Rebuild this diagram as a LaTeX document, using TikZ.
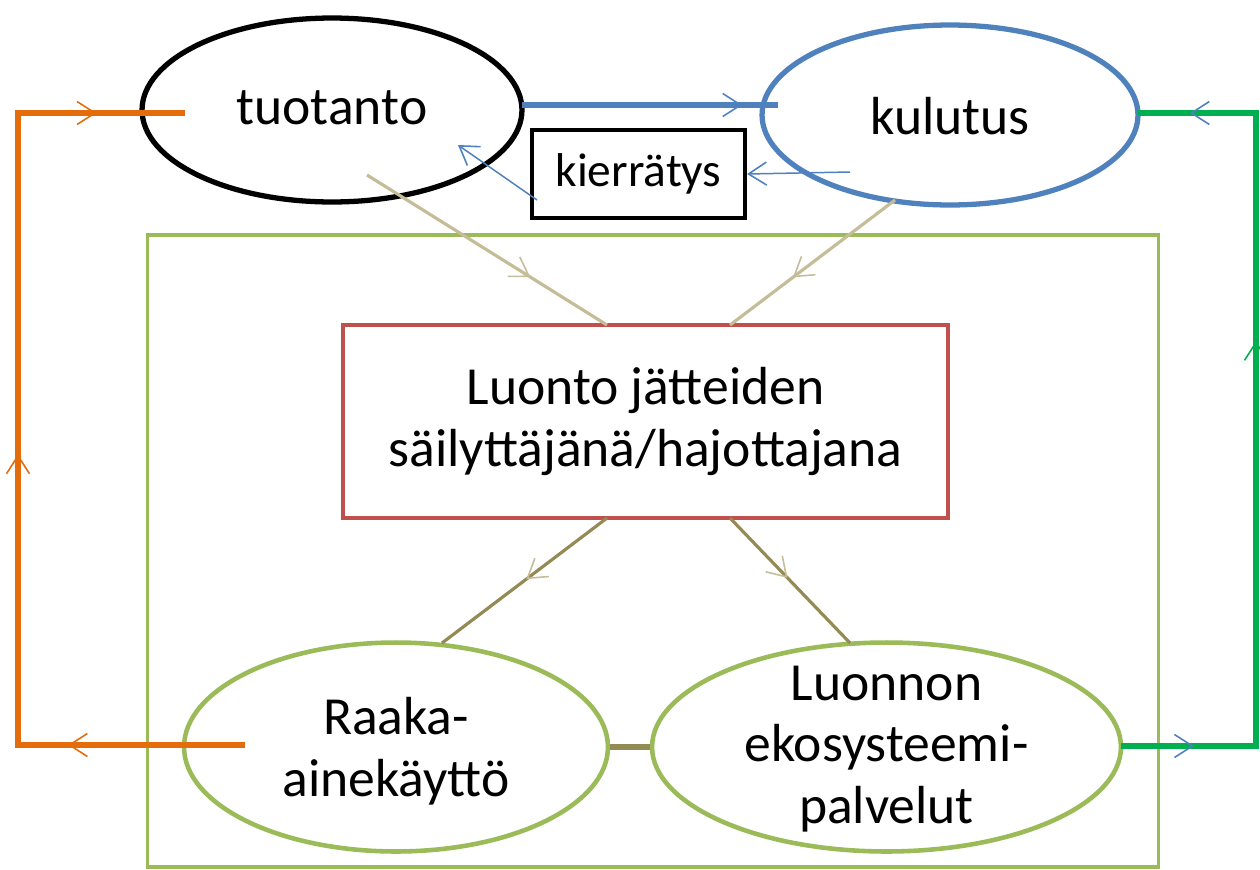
\documentclass[tikz,border=0pt]{standalone}
\usepackage{fontspec}
\setmainfont{Carlito}
\usetikzlibrary{shapes.geometric,arrows.meta,decorations.markings}
\definecolor{cblue}{HTML}{4F81BD}
\definecolor{cred}{HTML}{C0504D}
\definecolor{cgreen}{HTML}{9BBB59}
\definecolor{corange}{HTML}{E46C0A}
\definecolor{cbgreen}{HTML}{00B050}
\definecolor{ctan}{HTML}{C4BD97}
\definecolor{colive}{HTML}{948A54}
\tikzset{
  ell/.style={ellipse,draw=#1,minimum width=7.6cm,minimum height=3.68cm,inner sep=0pt},
  txt/.style={font=\fontsize{30.5}{35}\selectfont,align=center,inner sep=0pt},
  arrowat/.style n args={2}{postaction={decorate},decoration={markings,
     mark=at position #1 with {\arrow[#2]{Straight Barb[length=0.36cm,width=0.46cm,line width=0.9pt]}}}}
}
\begin{document}
\begin{tikzpicture}[x=0.02cm,y=-0.02cm]
\useasboundingbox (0,0) rectangle (1260,869);
% frame
\node[draw=cgreen,line width=1.8pt,minimum width=20.24cm,minimum height=12.64cm,inner sep=0pt] (frame) at (653,551) {};
% nodes
\node[ell=black,line width=3pt] (tuo) at (332,110) {};
\node[txt] (tuotxt) at (332,108) {tuotanto};
\node[ell=cblue,line width=3pt,minimum width=7.52cm,minimum height=3.6cm] (kul) at (950,115) {};
\node[txt] (kultxt) at (950,116) {kulutus};
\node[draw=black,line width=2.4pt,minimum width=4.26cm,minimum height=1.76cm,inner sep=0pt,txt,font=\fontsize{27}{32}\selectfont] (kie) at (638.5,174) {kierrätys};
\node[draw=cred,line width=2.4pt,minimum width=12.1cm,minimum height=3.86cm,inner sep=0pt,txt] (luo) at (645.5,421.5) {Luonto jätteiden\\säilyttäjänä/hajottajana};
\node[ell=cgreen,line width=2.6pt,minimum width=8.48cm,minimum height=4.18cm] (raa) at (396,747) {};
\node[txt] (raatxt) at (396,751) {Raaka-\\ainekäyttö};
\node[ell=cgreen,line width=2.6pt,minimum width=9.38cm,minimum height=4.18cm] (lpa) at (886.5,747) {};
\node[txt] (lpatxt) at (886.5,749) {Luonnon\\ekosysteemi-\\palvelut};
% coordinates
\coordinate (o1) at (185,113);
\coordinate (o2) at (18,113);
\coordinate (o3) at (18,745);
\coordinate (o4) at (245,745);
\coordinate (g1) at (1138,113);
\coordinate (g2) at (1256,113);
\coordinate (g3) at (1256,746);
\coordinate (g4) at (1121,746);
\coordinate (b1) at (522,105);
\coordinate (b2) at (778,105);
\coordinate (k1) at (850,172);
\coordinate (k2) at (537,200);
\coordinate (k3) at (458,145);
\coordinate (t1) at (367,175);
\coordinate (t2) at (607,325);
\coordinate (t3) at (895,200);
\coordinate (t4) at (730,325);
\coordinate (l1) at (607,518);
\coordinate (l2) at (442,643);
\coordinate (l3) at (730,518);
\coordinate (l4) at (850,643);
% orange loop
\draw[corange,line width=3.3pt] (o1) -- (o2) -- (o3) -- (o4);
\path[arrowat={0.47}{corange}] (o2) -- (o1);
\path[arrowat={0.46}{corange}] (o3) -- (o2);
\path[arrowat={0.78}{corange}] (o4) -- (o3);
% green loop
\draw[cbgreen,line width=3.1pt] (g4) -- (g3) -- (g2) -- (g1);
\path[arrowat={0.54}{cblue}] (g4) -- (g3);
\path[arrowat={0.64}{cbgreen}] (g3) -- (g2);
\path[arrowat={0.56}{cblue}] (g2) -- (g1);
% blue
\draw[cblue,line width=3.1pt,arrowat={0.86}{cblue}] (b1) -- (b2);
\draw[cblue,line width=0.85pt,-{Straight Barb[length=0.36cm,width=0.46cm,line width=0.9pt]}] (k1) -- (kie.east);
\draw[cblue,line width=0.85pt,-{Straight Barb[length=0.36cm,width=0.46cm,line width=0.9pt]}] (k2) -- (k3);
% tan
\draw[ctan,line width=1.8pt,arrowat={0.68}{ctan}] (t1) -- (t2);
\draw[ctan,line width=1.8pt,arrowat={0.62}{ctan}] (t3) -- (t4);
% olive
\draw[colive,line width=1.8pt,arrowat={0.49}{ctan}] (l1) -- (l2);
\draw[colive,line width=1.8pt,arrowat={0.48}{ctan}] (l3) -- (l4);
\draw[colive,line width=3.1pt] (raa.east) -- (lpa.west);
\end{tikzpicture}
\end{document}
